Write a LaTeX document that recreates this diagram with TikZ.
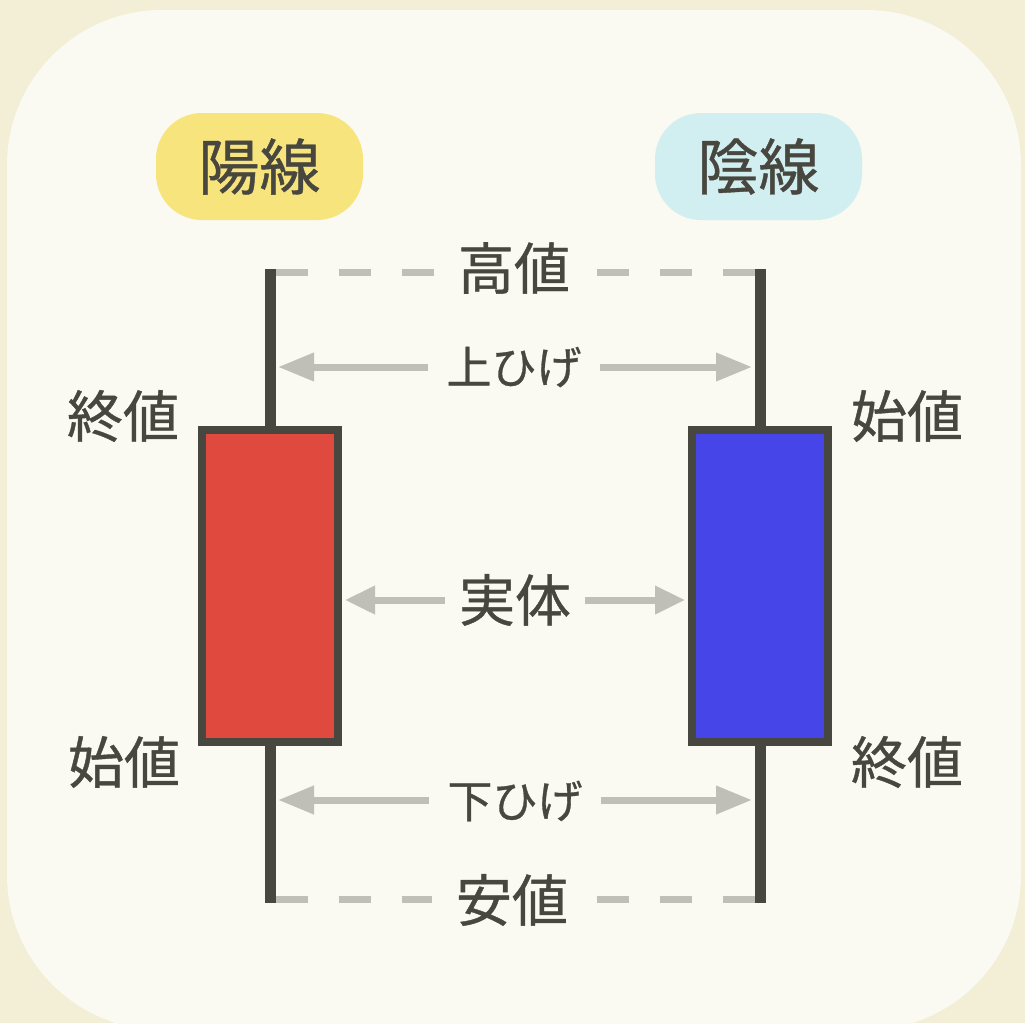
\documentclass[tikz,border=0pt]{standalone}
\usepackage{fontspec}
\setmainfont{Noto Sans CJK JP}[FakeBold=0.7]
\usetikzlibrary{arrows.meta}
\definecolor{outerbg}{HTML}{F3EFD6}
\definecolor{innerbg}{HTML}{FAF9F2}
\definecolor{ink}{HTML}{47473F}
\definecolor{guide}{HTML}{C0BFB7}
\definecolor{yangfill}{HTML}{F8E47C}
\definecolor{yinfill}{HTML}{D1EFF0}
\definecolor{upred}{HTML}{E0493E}
\definecolor{downblue}{HTML}{4646E8}
\begin{document}
\begin{tikzpicture}[x=1pt,y=-1pt,
  lbl/.style={text=ink, inner sep=0pt, font=\fontsize{56}{60}\selectfont},
  smalllbl/.style={text=ink, inner sep=0pt, font=\fontsize{45}{50}\selectfont},
  pill/.style={rounded corners=46pt, minimum width=207pt, minimum height=107pt, inner sep=0pt, text=ink, font=\fontsize{61}{66}\selectfont},
  body/.style={draw=ink, line width=8pt, minimum width=136pt, minimum height=312pt, inner sep=0pt},
  wick/.style={draw=ink, line width=11pt},
  dashline/.style={draw=guide, line width=7pt, dash pattern=on 32pt off 31pt},
  guidearrow/.style={draw=guide, line width=7pt, -{Triangle[length=36pt,width=27pt]}},
  bodyarrow/.style={draw=guide, line width=7pt, -{Triangle[length=30pt,width=27pt]}}
]
\useasboundingbox (0,0) rectangle (1025,1023);
\clip (0,0) rectangle (1025,1023);
\fill[outerbg] (0,0) rectangle (1025,1023);
\fill[innerbg, rounded corners=155pt] (7,10) rectangle (1021,1030);

% title pills
\node[pill, fill=yangfill] (yang) at (259.5,166.5) {陽線};
\node[pill, fill=yinfill] (yin) at (758.5,166.5) {陰線};

% candle bodies
\node[body, fill=upred] (lbody) at (270,586) {};
\node[body, fill=downblue] (rbody) at (760,586) {};

% wick end points
\coordinate (ltop) at (270,269);
\coordinate (lbot) at (270,903);
\coordinate (rtop) at (760,269);
\coordinate (rbot) at (760,903);

\draw[wick] (ltop) -- (lbody.north);
\draw[wick] (lbody.south) -- (lbot);
\draw[wick] (rtop) -- (rbody.north);
\draw[wick] (rbody.south) -- (rbot);

% high / low guides
\node[lbl, minimum width=155pt] (high) at (514,268) {高値};
\node[lbl, minimum width=160pt] (low) at (512,900) {安値};
\coordinate (hl) at (275.5,272);
\coordinate (hr) at (754.5,272);
\coordinate (ll) at (275.5,899);
\coordinate (lr) at (754.5,899);
\draw[dashline] (hl) -- (hl -| high.west);
\draw[dashline] (hr) -- (hr -| high.east);
\draw[dashline] (ll) -- (ll -| low.west);
\draw[dashline] (lr) -- (lr -| low.east);

% upper shadow
\node[smalllbl, minimum width=172pt] (upper) at (514,367) {上ひげ};
\coordinate (ual) at (278,367);
\coordinate (uar) at (752,367);
\draw[guidearrow] (upper.west) -- (ual);
\draw[guidearrow] (upper.east) -- (uar);

% real body
\node[lbl, minimum width=140pt] (real) at (515,600) {実体};
\coordinate (ral) at (345,600);
\coordinate (rar) at (685,600);
\draw[bodyarrow] (real.west) -- (ral);
\draw[bodyarrow] (real.east) -- (rar);

% lower shadow
\node[smalllbl, minimum width=172pt] (lower) at (515,801) {下ひげ};
\coordinate (lal) at (278,800);
\coordinate (lar) at (752,800);
\draw[guidearrow] (lower.west |- lal) -- (lal);
\draw[guidearrow] (lower.east |- lar) -- (lar);

% open / close labels
\node[lbl] (lclose) at (123,416) {終値};
\node[lbl] (lopen) at (124,762) {始値};
\node[lbl] (ropen) at (907,416) {始値};
\node[lbl] (rclose) at (907,762) {終値};
\end{tikzpicture}
\end{document}
